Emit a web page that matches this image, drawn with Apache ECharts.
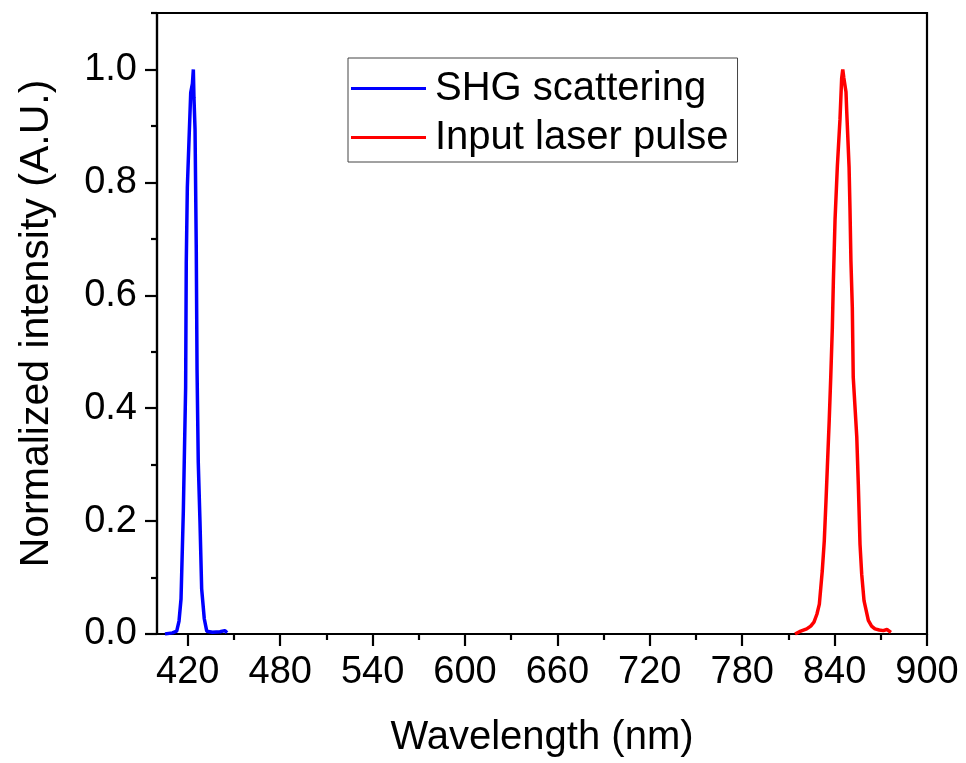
<!DOCTYPE html>
<html>
<head>
<meta charset="utf-8">
<script src="https://cdn.jsdelivr.net/npm/echarts@6/dist/echarts.min.js"></script>
<style>
html,body{margin:0;padding:0;background:#fff;}
#chart{width:966px;height:763px;}
</style>
</head>
<body>
<div id="chart"></div>
<script>
// ---- data ----
const seriesNames = ['SHG scattering', 'Input laser pulse'];
const shgWavelength = [405.2, 410.0, 412.8, 414.3, 415.6, 417.1, 418.6, 419.0, 419.7, 420.8, 421.9, 423.0, 423.6, 424.0, 424.7, 425.5, 426.0, 426.8, 427.9, 429.0, 430.7, 432.3, 436.0, 440.9, 444.0, 444.8, 445.5];
const shgIntensity  = [0.000, 0.002, 0.005, 0.023, 0.062, 0.218, 0.437, 0.658, 0.791, 0.876, 0.959, 0.975, 1.000, 0.950, 0.894, 0.681, 0.469, 0.304, 0.200, 0.080, 0.027, 0.005, 0.003, 0.004, 0.006, 0.008, 0.002];
const laserWavelength = [814.3, 815.4, 818.0, 821.9, 824.5, 826.6, 828.5, 830.1, 832.0, 833.3, 834.4, 835.3, 836.5, 837.5, 838.5, 839.2, 840.3, 841.8, 843.5, 844.6, 845.3, 846.0, 847.4, 847.9, 849.4, 850.0, 850.6, 851.5, 852.1, 854.4, 855.4, 856.5, 857.6, 859.1, 861.9, 864.0, 866.2, 869.0, 871.6, 874.0, 876.6];
const laserIntensity  = [0.000, 0.003, 0.005, 0.009, 0.014, 0.021, 0.035, 0.053, 0.112, 0.165, 0.235, 0.296, 0.378, 0.455, 0.540, 0.625, 0.735, 0.829, 0.912, 0.985, 1.000, 0.985, 0.960, 0.924, 0.827, 0.752, 0.661, 0.579, 0.455, 0.349, 0.265, 0.159, 0.106, 0.059, 0.024, 0.014, 0.009, 0.007, 0.006, 0.008, 0.003];
const xMajorTicks = [420, 480, 540, 600, 660, 720, 780, 840, 900];
const xMinorTicks = [450, 510, 570, 630, 690, 750, 810, 870];
const yMajorTicks = [0, 0.2, 0.4, 0.6, 0.8, 1.0];
const yMinorTicks = [0.1, 0.3, 0.5, 0.7, 0.9, 1.1];
const xRange = [400, 900];
const yRange = [0, 1.1];
const xTitle = 'Wavelength (nm)';
const yTitle = 'Normalized intensity (A.U.)';
const colors = ['#0000FF', '#FF0000'];

// ---- chart ----
const FONT = "'Liberation Sans', Arial, sans-serif";
const zip = (xs, ys) => xs.map((x, i) => [x, ys[i]]);
const chart = echarts.init(document.getElementById('chart'), null, {renderer: 'canvas'});
const axisLineStyle = {color: '#000', width: 2.2};

chart.setOption({
  animation: false,
  backgroundColor: '#fff',
  grid: {left: 157, right: 39, top: 13, bottom: 128, show: true, borderColor: '#000', borderWidth: 2.2, containLabel: false},
  legend: {
    left: 348, top: 58,
    orient: 'vertical',
    data: seriesNames,
    icon: 'rect',
    itemWidth: 75, itemHeight: 3, itemGap: 4,
    borderColor: '#444', borderWidth: 1,
    padding: [8, 9, 2, 3],
    textStyle: {fontFamily: FONT, fontSize: 40, color: '#000', lineHeight: 45, padding: [0, 0, 0, 4]}
  },
  xAxis: [
    {
      type: 'value', min: xRange[0], max: xRange[1], position: 'bottom',
      name: xTitle, nameLocation: 'middle', nameGap: 84,
      nameTextStyle: {fontFamily: FONT, fontSize: 40, color: '#000'},
      axisLine: {show: true, lineStyle: axisLineStyle},
      axisTick: {show: true, inside: false, length: 12, customValues: xMajorTicks, lineStyle: {color: '#000', width: 2.2}},
      axisLabel: {show: true, customValues: xMajorTicks, margin: 20, fontFamily: FONT, fontSize: 38, color: '#000'},
      splitLine: {show: false}
    },
    {
      type: 'value', min: xRange[0], max: xRange[1], position: 'bottom',
      axisLine: {show: false},
      axisTick: {show: true, inside: false, length: 6, customValues: xMinorTicks, lineStyle: {color: '#000', width: 2.2}},
      axisLabel: {show: false},
      splitLine: {show: false}
    }
  ],
  yAxis: [
    {
      type: 'value', min: yRange[0], max: yRange[1], position: 'left',
      name: yTitle, nameLocation: 'middle', nameGap: 100, nameRotate: 90,
      nameTextStyle: {fontFamily: FONT, fontSize: 41, color: '#000'},
      axisLine: {show: true, lineStyle: axisLineStyle},
      axisTick: {show: true, inside: false, length: 12, customValues: yMajorTicks, lineStyle: {color: '#000', width: 2.2}},
      axisLabel: {show: true, customValues: yMajorTicks, margin: 20, fontFamily: FONT, fontSize: 38, color: '#000',
        formatter: v => v.toFixed(1)},
      splitLine: {show: false}
    },
    {
      type: 'value', min: yRange[0], max: yRange[1], position: 'left',
      axisLine: {show: false},
      axisTick: {show: true, inside: false, length: 6, customValues: yMinorTicks, lineStyle: {color: '#000', width: 2.2}},
      axisLabel: {show: false},
      splitLine: {show: false}
    }
  ],
  series: [
    {
      name: seriesNames[0], type: 'line', xAxisIndex: 0, yAxisIndex: 0,
      data: zip(shgWavelength, shgIntensity),
      symbol: 'none', showSymbol: false,
      lineStyle: {color: colors[0], width: 3.5}, itemStyle: {color: colors[0]}, z: 5
    },
    {
      name: seriesNames[1], type: 'line', xAxisIndex: 0, yAxisIndex: 0,
      data: zip(laserWavelength, laserIntensity),
      symbol: 'none', showSymbol: false,
      lineStyle: {color: colors[1], width: 3.5}, itemStyle: {color: colors[1]}, z: 5
    }
  ]
});
</script>
</body>
</html>
